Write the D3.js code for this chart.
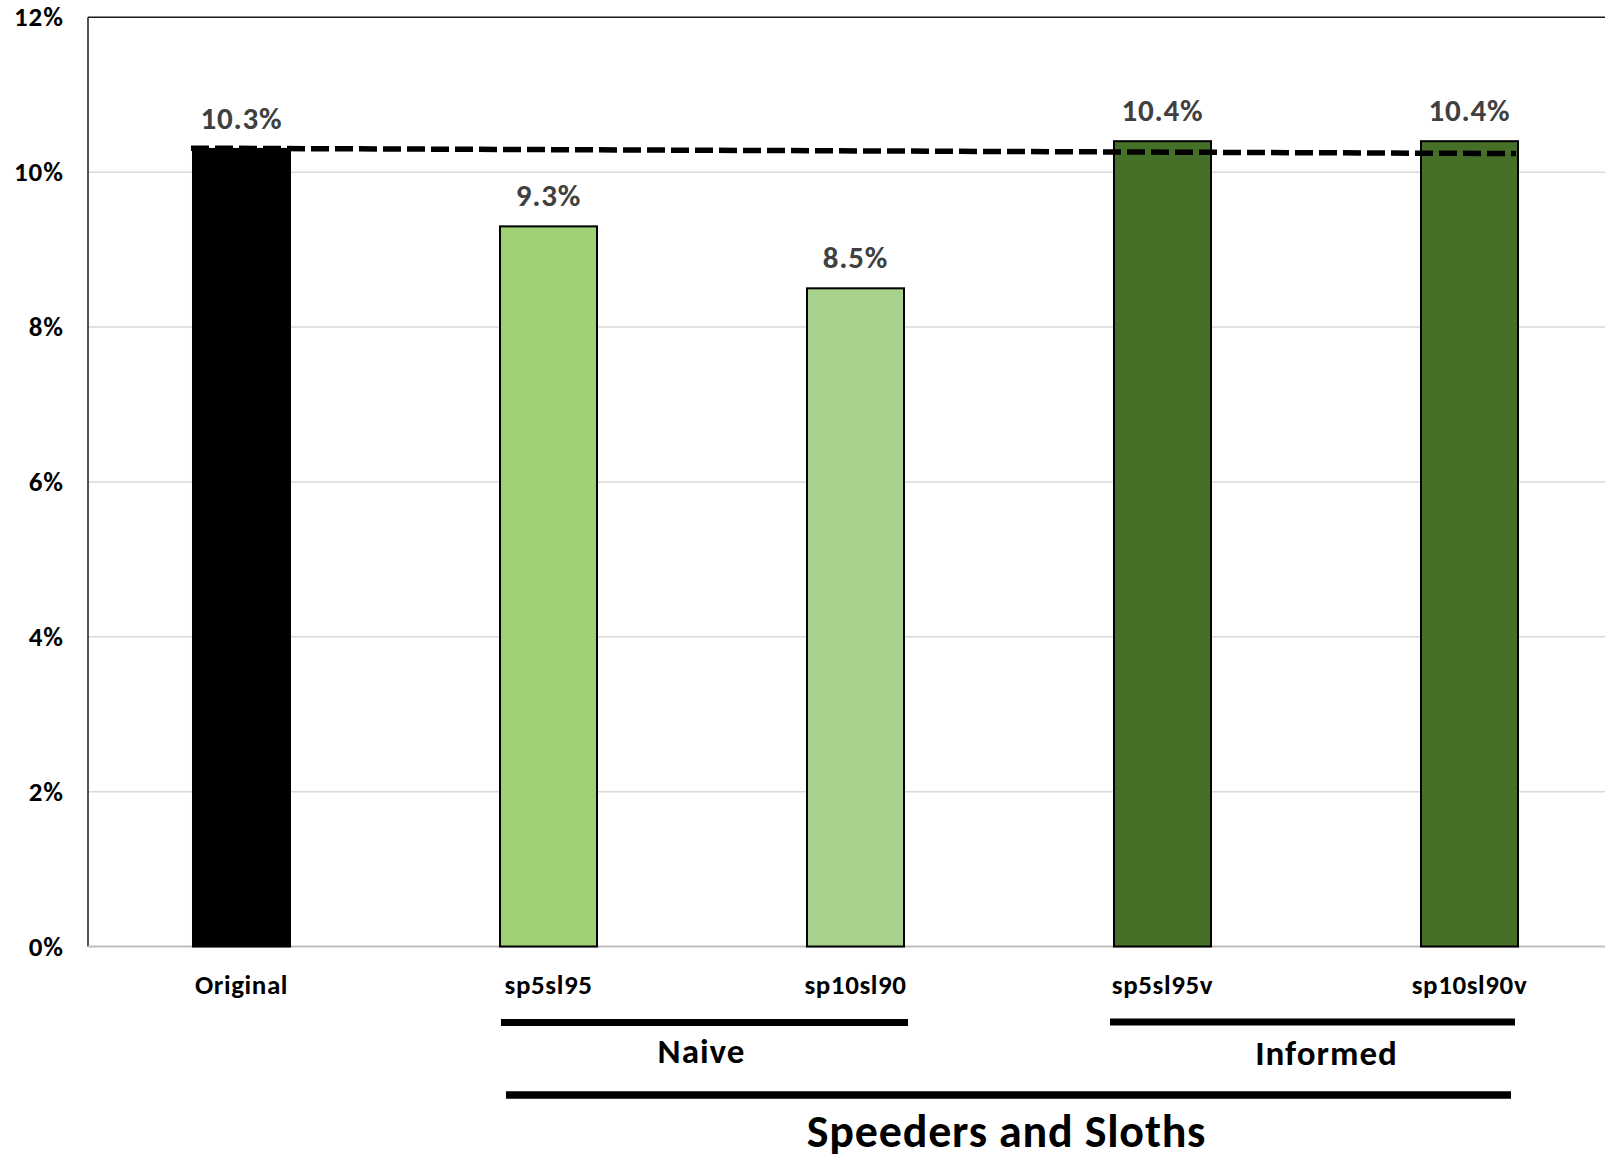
<!DOCTYPE html>
<html>
<head>
<meta charset="utf-8">
<script src="https://cdn.jsdelivr.net/npm/d3@7"></script>
<style>
  html, body { margin: 0; padding: 0; background: #fff; }
  svg { display: block; }
  text { font-family: Carlito, Lato, "Open Sans", sans-serif; font-weight: bold; }
</style>
</head>
<body>
<svg id="chart" width="1605" height="1158"></svg>
<script>
// Share of trips (percent) for each simulation scenario
const categories = ["Original", "sp5sl95", "sp10sl90", "sp5sl95v", "sp10sl90v"];
const values = [10.3, 9.3, 8.5, 10.4, 10.4];
const barColors = ["#000000", "#9dd174", "#a9d18e", "#467027", "#467027"];
const valueLabels = ["10.3%", "9.3%", "8.5%", "10.4%", "10.4%"];
const yTicks = [0, 2, 4, 6, 8, 10, 12];
// Dashed reference line: level at the first and last bar
const refLine = [10.31, 10.24];
// Category groupings shown under the axis
const groups = [
  { name: "Naive", from: "sp5sl95", to: "sp10sl90" },
  { name: "Informed", from: "sp5sl95v", to: "sp10sl90v" },
];
const superGroup = { name: "Speeders and Sloths", from: "sp5sl95", to: "sp10sl90v" };

const svg = d3.select("#chart");
const plotLeft = 88, plotTop = 17.3, plotBottom = 946.5;
const step = 307;

const x = d3.scaleBand()
  .domain(categories)
  .range([plotLeft, plotLeft + categories.length * step])
  .paddingInner(0.684)
  .paddingOuter(0.342);

const y = d3.scaleLinear().domain([0, 12]).range([plotBottom, plotTop]);

// Gridlines
svg.append("g")
  .selectAll("line")
  .data(yTicks.filter(t => t > 0 && t < 12))
  .join("line")
  .attr("x1", plotLeft).attr("x2", 1605)
  .attr("y1", d => y(d)).attr("y2", d => y(d))
  .attr("stroke", "#d9d9d9").attr("stroke-width", 1.5);

// Plot frame (left and top), bottom axis line
svg.append("line").attr("x1", plotLeft).attr("x2", 1605).attr("y1", plotTop).attr("y2", plotTop)
  .attr("stroke", "#1a1a1a").attr("stroke-width", 1.5);
svg.append("line").attr("x1", plotLeft).attr("x2", plotLeft).attr("y1", plotTop).attr("y2", plotBottom)
  .attr("stroke", "#1a1a1a").attr("stroke-width", 1.5);
svg.append("line").attr("x1", plotLeft).attr("x2", 1605).attr("y1", plotBottom).attr("y2", plotBottom)
  .attr("stroke", "#bfbfbf").attr("stroke-width", 2);

// Y axis tick labels
const yAxis = d3.axisLeft(y).tickValues(yTicks).tickFormat(d => d + "%").tickSize(0).tickPadding(24);
const yg = svg.append("g").attr("transform", `translate(${plotLeft},0)`).call(yAxis);
yg.select(".domain").remove();
yg.selectAll("text")
  .attr("font-size", 27).attr("fill", "#000").attr("letter-spacing", 1)
  .style("font-family", "Carlito, Lato, sans-serif").style("font-weight", "bold");

// Bars
const data = categories.map((c, i) => ({ c, v: values[i], color: barColors[i], label: valueLabels[i] }));
svg.append("g")
  .selectAll("rect")
  .data(data)
  .join("rect")
  .attr("x", d => x(d.c))
  .attr("width", x.bandwidth())
  .attr("y", d => y(d.v))
  .attr("height", d => y(0) - y(d.v))
  .attr("fill", d => d.color)
  .attr("stroke", "#000").attr("stroke-width", 2);

// Value labels
svg.append("g")
  .selectAll("text")
  .data(data)
  .join("text")
  .attr("x", d => x(d.c) + x.bandwidth() / 2)
  .attr("y", d => y(d.v) - 20)
  .attr("text-anchor", "middle")
  .attr("font-size", 31)
  .attr("letter-spacing", 0.8)
  .attr("fill", "#404040")
  .text(d => d.label);

// Dashed reference line across the bars
const first = categories[0], last = categories[categories.length - 1];
svg.append("line")
  .attr("x1", x(first) - 2).attr("y1", y(refLine[0]))
  .attr("x2", x(last) + x.bandwidth() - 2).attr("y2", y(refLine[1]))
  .attr("stroke", "#000").attr("stroke-width", 5.5)
  .attr("stroke-dasharray", "18,6");

// Category labels
svg.append("g")
  .selectAll("text")
  .data(categories)
  .join("text")
  .attr("x", d => x(d) + x.bandwidth() / 2)
  .attr("y", 994)
  .attr("text-anchor", "middle")
  .attr("font-size", 27)
  .attr("letter-spacing", 0.6)
  .attr("fill", "#000")
  .text(d => d);

// Group brackets
function bracket(g, opt) {
  const x1 = x(g.from) + opt.padL, x2 = x(g.to) + x.bandwidth() + opt.padR;
  svg.append("line")
    .attr("x1", x1).attr("x2", x2).attr("y1", opt.yLine).attr("y2", opt.yLine)
    .attr("stroke", "#000").attr("stroke-width", opt.width);
  svg.append("text")
    .attr("x", (x1 + x2) / 2 + opt.shift).attr("y", opt.yText)
    .attr("text-anchor", "middle").attr("font-size", opt.size)
    .attr("letter-spacing", opt.spacing).attr("fill", "#000")
    .text(g.name);
}
bracket(groups[0], { padL: 1, padR: 4, yLine: 1022.5, yText: 1063, size: 35, spacing: 1, width: 7, shift: -3 });
bracket(groups[1], { padL: -4, padR: -3, yLine: 1022, yText: 1065, size: 35, spacing: 1, width: 7, shift: 14 });
bracket(superGroup, { padL: 6, padR: -7, yLine: 1095, yText: 1147, size: 46, spacing: 0.8, width: 7.5, shift: -2 });
</script>
</body>
</html>
